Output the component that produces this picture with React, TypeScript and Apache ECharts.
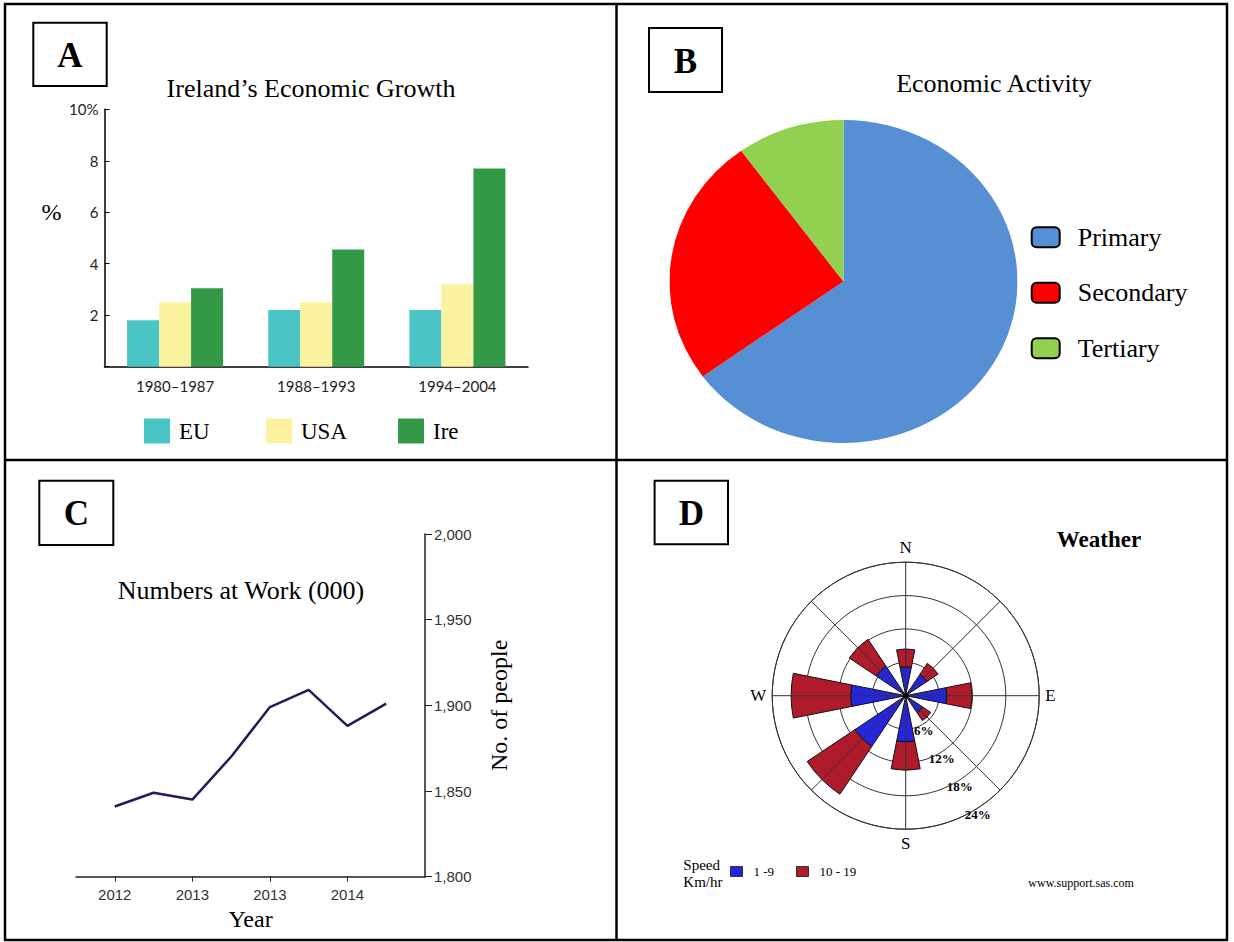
import React, { useEffect, useRef } from 'react';
import * as echarts from 'echarts';

// ---------- DATA ----------
// Panel A: Ireland's Economic Growth (%)
const growthPeriods = ['1980–1987', '1988–1993', '1994–2004'];
const growthEU = [1.8, 2.2, 2.2];
const growthUSA = [2.5, 2.5, 3.2];
const growthIre = [3.05, 4.55, 7.7];
const growthTicks = [0, 2, 4, 6, 8, 10];

// Panel B: Economic Activity (share %)
const activityNames = ['Primary', 'Secondary', 'Tertiary'];
const activityShares = [65, 25, 10];

// Panel C: Numbers at Work (000) – half-year steps, padded slots at both ends
const workSlots = ['', '2012', '', '2013', '', '2013', '', '2014', '', ''];
const workNumbers = [null, 1841, 1849, 1845, 1870, 1899, 1909, 1888, 1901, null];
const workTicks = [1800, 1850, 1900, 1950, 2000];

// Panel D: Weather wind rose (% of time)
const windDirections = ['N', 'NE', 'E', 'SE', 'S', 'SW', 'W', 'NW'];
const windSpeed1to9 = [5.2, 4.6, 7.4, 3.7, 8.3, 11.0, 9.9, 6.4];
const windSpeed10to19 = [3.2, 2.4, 4.5, 1.7, 5.1, 10.3, 10.7, 5.8];
const windRings = [6, 12, 18, 24];
const compassLabels: Record<number, string> = { 0: 'N', 90: 'E', 180: 'S', 270: 'W' };

// ---------- STYLE ----------
const SERIF = "'Liberation Serif', 'Times New Roman', serif";
const GILL = "Lato, 'Liberation Sans', sans-serif";
const ARIAL = "'Liberation Sans', Arial, sans-serif";
const growthColors = ['#4bc4c6', '#faf29e', '#339947'];
const activityColors = ['#578fd5', '#ff0000', '#92d050'];
const windColors = ['#2525de', '#b01b2c'];

const PIE_CX = 843.6;
const PIE_CY = 281.7;
const PIE_RY = 161.5;
const PIE_RX = 174;

const ROSE_C = [905.7, 695.7];
const ROSE_R = 133.5;

function boxLetter(letter: string, x: number, y: number, w: number, h: number) {
  return [
    {
      type: 'rect',
      shape: { x, y, width: w, height: h },
      style: { fill: '#fff', stroke: '#000', lineWidth: 2 },
    },
    {
      type: 'text',
      style: {
        text: letter,
        x: x + w / 2,
        y: y + h / 2 + 1,
        align: 'center',
        verticalAlign: 'middle',
        fontFamily: SERIF,
        fontWeight: 'bold',
        fontSize: 35,
        fill: '#000',
      },
    },
  ];
}

function titleAt(text: string, cx: number, top: number, size = 26, weight = 'normal') {
  return {
    text,
    left: cx,
    top,
    textAlign: 'center',
    padding: 0,
    textStyle: { fontFamily: SERIF, fontSize: size, fontWeight: weight, color: '#000' },
  };
}

function buildMain(): any {
  const legendA = (name: string, left: number) => ({
    data: [name],
    left,
    top: 418.5,
    padding: 0,
    selectedMode: false,
    icon: 'rect',
    itemWidth: 26,
    itemHeight: 25,
    itemStyle: { borderWidth: 0 },
    textStyle: { fontFamily: SERIF, fontSize: 23, color: '#000', padding: [0, 0, 0, 4] },
  });
  const legendD = (name: string, left: number) => ({
    data: [name],
    left,
    top: 865,
    padding: 0,
    selectedMode: false,
    icon: 'rect',
    itemWidth: 12,
    itemHeight: 10,
    itemStyle: { borderColor: '#333', borderWidth: 1 },
    textStyle: { fontFamily: SERIF, fontSize: 13, color: '#000', padding: [0, 0, 0, 6] },
  });

  return {
    animation: false,
    backgroundColor: '#fff',
    title: [
      titleAt('Ireland’s Economic Growth', 311, 75),
      titleAt('Economic Activity', 994, 70),
      titleAt('Numbers at Work (000)', 241, 577.7),
      titleAt('Weather', 1099, 527.5, 23, 'bold'),
    ],
    legend: [
      legendA('EU', 144),
      legendA('USA', 266),
      legendA('Ire', 398),
      {
        data: activityNames,
        orient: 'vertical',
        left: 1030.7,
        top: 224.3,
        padding: 0,
        selectedMode: false,
        icon: 'roundRect',
        itemWidth: 28,
        itemHeight: 20,
        itemGap: 29.5,
        itemStyle: { borderColor: '#000', borderWidth: 2 },
        textStyle: { fontFamily: SERIF, fontSize: 26, color: '#000', padding: [0, 0, 0, 13] },
      },
      legendD('1 -9', 730),
      legendD('10 - 19', 796),
    ],
    grid: [
      { left: 104.5, top: 109.3, width: 423.5, height: 257.4, containLabel: false },
      { left: 76, top: 534, width: 349, height: 342.7, containLabel: false },
    ],
    xAxis: [
      {
        gridIndex: 0,
        type: 'category',
        data: growthPeriods,
        axisLine: { lineStyle: { color: '#000', width: 1.5 } },
        axisTick: { show: false },
        axisLabel: { fontFamily: GILL, fontSize: 15, color: '#222', margin: 12 },
        splitLine: { show: false },
      },
      {
        gridIndex: 1,
        type: 'category',
        data: workSlots,
        boundaryGap: false,
        axisLine: { lineStyle: { color: '#222', width: 1.5 } },
        axisTick: {
          show: true,
          length: 5,
          interval: (i: number) => i % 2 === 1 && i <= 7,
          lineStyle: { color: '#222' },
        },
        axisLabel: {
          interval: (i: number) => i % 2 === 1 && i <= 7,
          fontFamily: ARIAL,
          fontSize: 15,
          color: '#333',
          margin: 10,
        },
        splitLine: { show: false },
        name: 'Year',
        nameLocation: 'middle',
        nameGap: 30,
        nameTextStyle: { fontFamily: SERIF, fontSize: 24, color: '#000' },
      },
    ],
    yAxis: [
      {
        gridIndex: 0,
        type: 'value',
        min: growthTicks[0],
        max: growthTicks[growthTicks.length - 1],
        interval: 2,
        axisLine: { show: true, lineStyle: { color: '#000', width: 1.5 } },
        axisTick: { show: true, inside: true, length: 5, lineStyle: { color: '#000' } },
        axisLabel: {
          formatter: (v: number) => (v === 0 ? '' : v === 10 ? '10%' : String(v)),
          fontFamily: GILL,
          fontSize: 15,
          color: '#222',
          margin: 6,
        },
        splitLine: { show: false },
        // two empty trailing lines lift the "%" to the level of the 6 tick
        name: '%\n\n',
        nameLocation: 'middle',
        nameRotate: 0,
        nameGap: 43,
        nameTextStyle: { fontFamily: SERIF, fontSize: 24, lineHeight: 26, color: '#000' },
      },
      {
        gridIndex: 1,
        type: 'value',
        position: 'right',
        min: workTicks[0],
        max: workTicks[workTicks.length - 1],
        interval: 50,
        axisLine: { show: true, lineStyle: { color: '#222', width: 1.5 } },
        axisTick: { show: true, length: 7, lineStyle: { color: '#222' } },
        axisLabel: {
          formatter: (v: number) => v.toLocaleString('en-US'),
          fontFamily: ARIAL,
          fontSize: 15,
          color: '#333',
          margin: 9,
        },
        splitLine: { show: false },
        name: 'No. of people',
        nameLocation: 'middle',
        nameRotate: 90,
        nameGap: 62,
        nameTextStyle: { fontFamily: SERIF, fontSize: 24, color: '#000' },
      },
    ],
    polar: [
      { center: ROSE_C, radius: ROSE_R },
      { center: ROSE_C, radius: ROSE_R },
      { center: ROSE_C, radius: ROSE_R },
    ],
    angleAxis: [
      {
        polarIndex: 0,
        type: 'value',
        min: 0,
        max: 360,
        interval: 45,
        startAngle: 90,
        clockwise: true,
        z: 5,
        axisLine: { show: true, lineStyle: { color: '#333', width: 1 } },
        axisTick: { show: false },
        splitLine: { show: true, lineStyle: { color: '#333', width: 1 } },
        axisLabel: {
          show: true,
          margin: 6,
          formatter: (v: number) => compassLabels[v] || '',
          fontFamily: SERIF,
          fontSize: 17,
          color: '#000',
        },
      },
      {
        polarIndex: 1,
        type: 'category',
        data: windDirections,
        startAngle: 112.5,
        clockwise: true,
        axisLine: { show: false },
        axisTick: { show: false },
        axisLabel: { show: false },
        splitLine: { show: false },
      },
      {
        polarIndex: 2,
        type: 'value',
        min: 0,
        max: 360,
        startAngle: -57.4,
        axisLine: { show: false },
        axisTick: { show: false },
        axisLabel: { show: false },
        splitLine: { show: false },
      },
    ],
    radiusAxis: [
      {
        polarIndex: 0,
        type: 'value',
        min: 0,
        max: windRings[windRings.length - 1],
        interval: 6,
        axisLine: { show: false },
        axisTick: { show: false },
        axisLabel: { show: false },
        splitLine: { show: true, lineStyle: { color: '#333', width: 1 } },
      },
      {
        polarIndex: 1,
        type: 'value',
        min: 0,
        max: windRings[windRings.length - 1],
        axisLine: { show: false },
        axisTick: { show: false },
        axisLabel: { show: false },
        splitLine: { show: false },
      },
      {
        polarIndex: 2,
        type: 'value',
        min: 0,
        max: windRings[windRings.length - 1],
        interval: 6,
        z: 6,
        axisLine: { show: false },
        axisTick: { show: false },
        splitLine: { show: false },
        axisLabel: {
          show: true,
          margin: 0,
          align: 'center',
          verticalAlign: 'top',
          formatter: (v: number) => (v === 0 ? '' : v + '%'),
          fontFamily: SERIF,
          fontWeight: 'bold',
          fontSize: 13,
          color: '#000',
        },
      },
    ],
    series: [
      {
        name: 'EU',
        type: 'bar',
        xAxisIndex: 0,
        yAxisIndex: 0,
        data: growthEU,
        barWidth: 32,
        barGap: '0%',
        itemStyle: { color: growthColors[0] },
        silent: true,
      },
      {
        name: 'USA',
        type: 'bar',
        xAxisIndex: 0,
        yAxisIndex: 0,
        data: growthUSA,
        barWidth: 32,
        barGap: '0%',
        itemStyle: { color: growthColors[1] },
        silent: true,
      },
      {
        name: 'Ire',
        type: 'bar',
        xAxisIndex: 0,
        yAxisIndex: 0,
        data: growthIre,
        barWidth: 32,
        barGap: '0%',
        itemStyle: { color: growthColors[2] },
        silent: true,
      },
      {
        name: 'Numbers at Work',
        type: 'line',
        xAxisIndex: 1,
        yAxisIndex: 1,
        data: workNumbers,
        symbol: 'none',
        connectNulls: false,
        lineStyle: { color: '#1e1e5a', width: 2.5 },
        silent: true,
      },
      {
        // legend carrier for panel B (the visible, slightly stretched pie is drawn in its own chart)
        name: 'Economic Activity legend',
        type: 'pie',
        center: [PIE_CX, PIE_CY],
        radius: [0, 0],
        silent: true,
        label: { show: false },
        labelLine: { show: false },
        itemStyle: { borderWidth: 0 },
        data: activityNames.map((n, i) => ({
          name: n,
          value: activityShares[i],
          itemStyle: { color: activityColors[i] },
        })),
      },
      {
        name: '1 -9',
        type: 'bar',
        coordinateSystem: 'polar',
        polarIndex: 1,
        stack: 'wind',
        data: windSpeed1to9,
        barCategoryGap: '50%',
        itemStyle: { color: windColors[0], borderColor: '#111', borderWidth: 1 },
        silent: true,
      },
      {
        name: '10 - 19',
        type: 'bar',
        coordinateSystem: 'polar',
        polarIndex: 1,
        stack: 'wind',
        data: windSpeed10to19,
        barCategoryGap: '50%',
        itemStyle: { color: windColors[1], borderColor: '#111', borderWidth: 1 },
        silent: true,
      },
    ],
    graphic: {
      elements: [
        {
          type: 'rect',
          shape: { x: 5, y: 4, width: 1222, height: 936 },
          style: { fill: 'none', stroke: '#000', lineWidth: 2.5 },
          z: 100,
        },
        {
          type: 'line',
          shape: { x1: 616.5, y1: 4, x2: 616.5, y2: 940 },
          style: { stroke: '#000', lineWidth: 2.5 },
          z: 100,
        },
        {
          type: 'line',
          shape: { x1: 5, y1: 460, x2: 1227, y2: 460 },
          style: { stroke: '#000', lineWidth: 2.5 },
          z: 100,
        },
        ...boxLetter('A', 33.3, 22.7, 73.4, 63.3),
        ...boxLetter('B', 649, 28, 73, 64),
        ...boxLetter('C', 39.3, 480.7, 74, 64.3),
        ...boxLetter('D', 654.6, 480.7, 73.4, 63.6),
        {
          // hub of the wind rose
          type: 'circle',
          shape: { cx: ROSE_C[0], cy: ROSE_C[1], r: 3 },
          style: { fill: '#000' },
          z: 100,
        },
        {
          type: 'text',
          style: {
            text: 'Speed\nKm/hr',
            x: 683.3,
            y: 856.5,
            lineHeight: 16.7,
            fontFamily: SERIF,
            fontSize: 15,
            fill: '#000',
          },
        },
        {
          type: 'text',
          style: {
            text: 'www.support.sas.com',
            x: 1028.3,
            y: 883.3,
            verticalAlign: 'middle',
            fontFamily: SERIF,
            fontSize: 12,
            fill: '#000',
          },
        },
      ],
    },
  };
}

function buildPie(): any {
  return {
    animation: false,
    series: [
      {
        name: 'Economic Activity',
        type: 'pie',
        center: ['50%', '50%'],
        radius: ['0%', '100%'],
        startAngle: 90,
        clockwise: true,
        silent: true,
        label: { show: false },
        labelLine: { show: false },
        itemStyle: { borderWidth: 0 },
        data: activityNames.map((n, i) => ({
          name: n,
          value: activityShares[i],
          itemStyle: { color: activityColors[i] },
        })),
      },
    ],
  };
}

export default function App() {
  const mainRef = useRef<HTMLDivElement>(null);
  const pieRef = useRef<HTMLDivElement>(null);

  useEffect(() => {
    document.body.style.margin = '0';
    const main = echarts.init(mainRef.current as HTMLDivElement, null, { renderer: 'svg' });
    const pie = echarts.init(pieRef.current as HTMLDivElement, null, { renderer: 'svg' });
    main.setOption(buildMain());
    pie.setOption(buildPie());
    return () => {
      main.dispose();
      pie.dispose();
    };
  }, []);

  const size = PIE_RY * 2;
  return (
    <div style={{ position: 'absolute', left: 0, top: 0, width: 1234, height: 942, background: '#fff' }}>
      <div ref={mainRef} style={{ position: 'absolute', left: 0, top: 0, width: 1234, height: 942 }} />
      <div
        ref={pieRef}
        style={{
          position: 'absolute',
          left: PIE_CX - PIE_RY,
          top: PIE_CY - PIE_RY,
          width: size,
          height: size,
          transform: `scaleX(${PIE_RX / PIE_RY})`,
          transformOrigin: '50% 50%',
        }}
      />
    </div>
  );
}
